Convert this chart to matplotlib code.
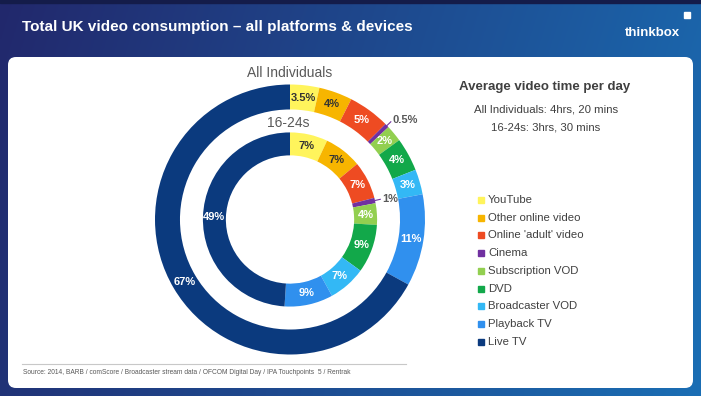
import numpy as np
import matplotlib
matplotlib.use('Agg')
import matplotlib.pyplot as plt
from matplotlib.patches import FancyBboxPatch, Rectangle

plt.rcParams['font.family'] = ['Liberation Sans', 'DejaVu Sans']

# data
categories = ['YouTube', 'Other online video', "Online 'adult' video", 'Cinema',
              'Subscription VOD', 'DVD', 'Broadcaster VOD', 'Playback TV', 'Live TV']
all_individuals = [3.5, 4, 5, 0.5, 2, 4, 3, 11, 67]
age_16_24 = [7, 7, 7, 1, 4, 9, 7, 9, 49]
colors = ['#FFF45C', '#F7B500', '#EE4B22', '#7030A0', '#92CF50',
          '#12A84A', '#33B8F5', '#3090EE', '#0B3A7E']
label_colors = ['#333333', '#333333', 'white', 'white', 'white',
                'white', 'white', 'white', 'white']

W, H = 701, 396
fig = plt.figure(figsize=(W / 100, H / 100), dpi=100)

# background slide, in pixel coordinates
bg = fig.add_axes([0, 0, 1, 1])
bg.set_xlim(0, W)
bg.set_ylim(H, 0)
bg.axis('off')

left = np.array([34, 40, 108]) / 255
right = np.array([26, 110, 180]) / 255
X, Y = np.meshgrid(np.linspace(0, 1, 300), np.linspace(0, 1, 100))
t = np.clip(0.85 * X + 0.15 * Y, 0, 1)
grad = left[None, None, :] * (1 - t[..., None]) + right[None, None, :] * t[..., None]
bg.imshow(grad, extent=[0, W, H, 0], aspect='auto', zorder=0)
bg.add_patch(Rectangle((0, 0), W, 3, color='#141c4a', zorder=1))

bg.add_patch(FancyBboxPatch((8, 57), 685, 331, boxstyle='round,pad=0,rounding_size=8',
                            facecolor='white', edgecolor='none', zorder=2))

bg.text(22, 27, 'Total UK video consumption \u2013 all platforms & devices',
        color='white', fontsize=11, fontweight='bold', ha='left', va='center', zorder=3)
bg.text(652, 33, 'thinkbox', color='white', fontsize=9.5, fontweight='bold',
        ha='center', va='center', zorder=3)
bg.add_patch(Rectangle((684, 12), 6, 6, color='white', zorder=3))

bg.text(290, 73, 'All Individuals', color='#595959', fontsize=10, ha='center', va='center', zorder=3)
bg.text(288, 123, '16-24s', color='#595959', fontsize=10, ha='center', va='center', zorder=3)

bg.text(545, 87, 'Average video time per day', color='#404040', fontsize=9.5,
        fontweight='bold', ha='center', va='center', zorder=3)
bg.text(546, 110, 'All Individuals: 4hrs, 20 mins', color='#404040', fontsize=8.2,
        ha='center', va='center', zorder=3)
bg.text(546, 128, '16-24s: 3hrs, 30 mins', color='#404040', fontsize=8.2,
        ha='center', va='center', zorder=3)

# legend
for i, (name, c) in enumerate(zip(categories, colors)):
    y = 200 + i * 17.7
    bg.add_patch(Rectangle((478, y - 3), 6, 6, color=c, zorder=3))
    bg.text(488, y, name, color='#404040', fontsize=8.2, ha='left', va='center', zorder=3)

bg.plot([22, 406], [364, 364], color='#c8c8c8', lw=0.8, zorder=3)
bg.text(23, 373, 'Source: 2014, BARB / comScore / Broadcaster stream data / OFCOM Digital Day / IPA Touchpoints  5 / Rentrak',
        color='#595959', fontsize=4.8, ha='left', va='center', zorder=3)

# donuts
ax = fig.add_axes([155 / W, (H - 354.5) / H, 270 / W, 270 / H])
outer, _ = ax.pie(all_individuals, radius=1, startangle=90, counterclock=False,
                  colors=colors, wedgeprops=dict(width=0.185, edgecolor='none'))
inner, _ = ax.pie(age_16_24, radius=0.645, startangle=90, counterclock=False,
                  colors=colors, wedgeprops=dict(width=0.17, edgecolor='none'))
ax.set_xlim(-1, 1)
ax.set_ylim(-1, 1)
ax.axis('off')


def label_ring(wedges, values):
    for w, v, tc in zip(wedges, values, label_colors):
        ang = np.deg2rad((w.theta1 + w.theta2) / 2)
        txt = f'{v:g}%'
        if v <= 1:
            # tiny slices get an outside label with a short leader line
            r0 = w.r
            ax.plot([r0 * np.cos(ang), (r0 + 0.04) * np.cos(ang)],
                    [r0 * np.sin(ang), (r0 + 0.04) * np.sin(ang)],
                    color='#7030A0', lw=0.8)
            ax.text((r0 + 0.055) * np.cos(ang), (r0 + 0.055) * np.sin(ang), txt,
                    color='#595959', fontsize=8, fontweight='bold', ha='left', va='center')
        else:
            r = w.r - w.width / 2
            ax.text(r * np.cos(ang), r * np.sin(ang), txt, color=tc, fontsize=8,
                    fontweight='bold', ha='center', va='center')


label_ring(outer, all_individuals)
label_ring(inner, age_16_24)

fig.savefig('out.png', dpi=100)
